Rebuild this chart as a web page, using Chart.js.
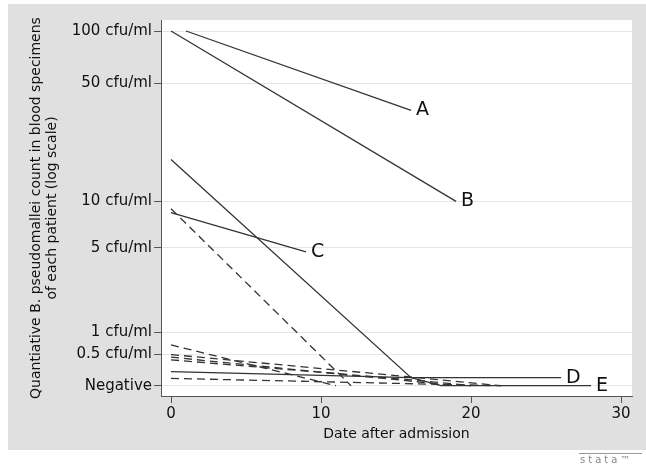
<!DOCTYPE html>
<html>
<head>
<meta charset="utf-8">
<script src="https://cdn.jsdelivr.net/npm/chart.js@4.4.1/dist/chart.umd.min.js"></script>
<style>
  html, body { margin: 0; padding: 0; background: #ffffff; }
  #wrap { width: 646px; height: 467px; }
</style>
</head>
<body>
<div id="wrap"><canvas id="c" width="646" height="467"></canvas></div>
<script>
// ---- data (day after admission, cfu/ml; 0 = Negative) ----
const patientA_days = [1, 16];
const patientA_cfu  = [100, 35];
const patientB_days = [0, 19];
const patientB_cfu  = [100, 10];
const patientC_days = [0, 9];
const patientC_cfu  = [8.5, 4.7];
const patientD_days = [0, 16, 26];
const patientD_cfu  = [18, 0.11, 0.11];
const patientE_days = [0, 16, 18, 28];
const patientE_cfu  = [0.2, 0.11, 0, 0];

// dashed (unlabelled) patients
const dash1_days = [0, 12];
const dash1_cfu  = [9, 0];
const dash2_days = [0, 11];
const dash2_cfu  = [0.7, 0];
const dash3_days = [0, 16, 22];
const dash3_cfu  = [0.5, 0.12, 0];
const dash4_days = [0, 19];
const dash4_cfu  = [0.45, 0];
const dash5_days = [0, 16, 20];
const dash5_cfu  = [0.4, 0.08, 0];
const dash6_days = [0, 22];
const dash6_cfu  = [0.1, 0];

const yTickValues = [0, 0.5, 1, 5, 10, 50, 100];
const yTickLabels = ['Negative', '0.5 cfu/ml', '1 cfu/ml', '5 cfu/ml', '10 cfu/ml', '50 cfu/ml', '100 cfu/ml'];
const xTickValues = [0, 10, 20, 30];

const yTitle = ['Quantiative B. pseudomallei count in blood specimens', 'of each patient (log scale)'];
const xTitle = 'Date after admission';

// log10(count + 1) scale, as in the reference
const tr = v => Math.log10(v + 1);
const pts = (d, c) => d.map((x, i) => ({ x: x, y: tr(c[i]) }));

const LINE = '#333333';
const solid = (d, c, lab) => ({ data: pts(d, c), endLabel: lab, borderColor: LINE, borderWidth: 1.3, pointRadius: 0, fill: false, tension: 0 });
const dashed = (d, c) => ({ data: pts(d, c), borderColor: LINE, borderWidth: 1.3, borderDash: [8, 5], pointRadius: 0, fill: false, tension: 0 });

const datasets = [
  solid(patientA_days, patientA_cfu, 'A'),
  solid(patientB_days, patientB_cfu, 'B'),
  solid(patientC_days, patientC_cfu, 'C'),
  solid(patientD_days, patientD_cfu, 'D'),
  solid(patientE_days, patientE_cfu, 'E'),
  dashed(dash1_days, dash1_cfu),
  dashed(dash2_days, dash2_cfu),
  dashed(dash3_days, dash3_cfu),
  dashed(dash4_days, dash4_cfu),
  dashed(dash5_days, dash5_cfu),
  dashed(dash6_days, dash6_cfu)
];

const W = 646, H = 467;
const FONT = "'DejaVu Sans', sans-serif";

const bgPlugin = {
  id: 'bg',
  beforeDraw(chart) {
    const ctx = chart.ctx, a = chart.chartArea;
    ctx.save();
    ctx.fillStyle = '#ffffff';
    ctx.fillRect(0, 0, W, H);
    ctx.fillStyle = '#e0e0e0';
    ctx.fillRect(8, 4, W - 8, 446);
    ctx.fillStyle = '#ffffff';
    ctx.fillRect(a.left, a.top, a.right - a.left, a.bottom - a.top);
    ctx.restore();
  },
  afterDraw(chart) {
    const ctx = chart.ctx;
    ctx.save();
    ctx.strokeStyle = '#999';
    ctx.lineWidth = 1;
    ctx.beginPath();
    ctx.moveTo(579, 453.5);
    ctx.lineTo(642, 453.5);
    ctx.stroke();
    ctx.fillStyle = '#888';
    ctx.font = "10px " + FONT;
    ctx.textAlign = 'left';
    ctx.textBaseline = 'middle';
    try { ctx.letterSpacing = '3px'; } catch (e) {}
    ctx.fillText('stata\u2122', 580, 460);
    ctx.restore();
  }
};

const endLabelPlugin = {
  id: 'endLabels',
  afterDatasetsDraw(chart) {
    const ctx = chart.ctx;
    ctx.save();
    ctx.fillStyle = '#111';
    ctx.font = "19px " + FONT;
    ctx.textAlign = 'left';
    ctx.textBaseline = 'middle';
    chart.data.datasets.forEach((ds, i) => {
      if (!ds.endLabel) return;
      const meta = chart.getDatasetMeta(i);
      const p = meta.data[meta.data.length - 1];
      ctx.fillText(ds.endLabel, p.x + 5, p.y);
    });
    ctx.restore();
  }
};

new Chart(document.getElementById('c'), {
  type: 'line',
  data: { datasets: datasets },
  plugins: [bgPlugin, endLabelPlugin],
  options: {
    responsive: false,
    devicePixelRatio: 1,
    animation: false,
    layout: { padding: { left: 0, top: 20, right: 14, bottom: 0 } },
    plugins: { legend: { display: false }, tooltip: { enabled: false } },
    scales: {
      x: {
        type: 'linear',
        position: 'bottom',
        min: -0.667,
        max: 30.73,
        afterBuildTicks: s => { s.ticks = xTickValues.map(v => ({ value: v })); },
        afterFit: s => { s.height = H - 396; },
        border: { color: '#555', width: 1 },
        grid: { drawOnChartArea: false, drawTicks: true, tickLength: 7, tickColor: '#555' },
        ticks: { font: { family: FONT, size: 15 }, color: '#111', padding: 2, maxRotation: 0 },
        title: { display: true, text: xTitle, font: { family: FONT, size: 14, lineHeight: 1.2 }, color: '#111', padding: { top: 0, bottom: 24 } }
      },
      y: {
        type: 'linear',
        position: 'left',
        min: -0.0582,
        max: 2.0665,
        afterBuildTicks: s => { s.ticks = yTickValues.map(v => ({ value: tr(v) })); },
        afterFit: s => { s.width = 161; },
        border: { color: '#555', width: 1 },
        grid: { color: '#e6e6e6', lineWidth: 1, drawTicks: true, tickLength: 7, tickColor: '#555' },
        ticks: {
          font: { family: FONT, size: 15 },
          color: '#111',
          padding: 2,
          callback: (val, idx) => yTickLabels[idx]
        },
        title: { display: true, text: yTitle, font: { family: FONT, size: 14, lineHeight: 1.15 }, color: '#111', padding: { top: 28, bottom: 0 } }
      }
    }
  }
});
</script>
</body>
</html>
